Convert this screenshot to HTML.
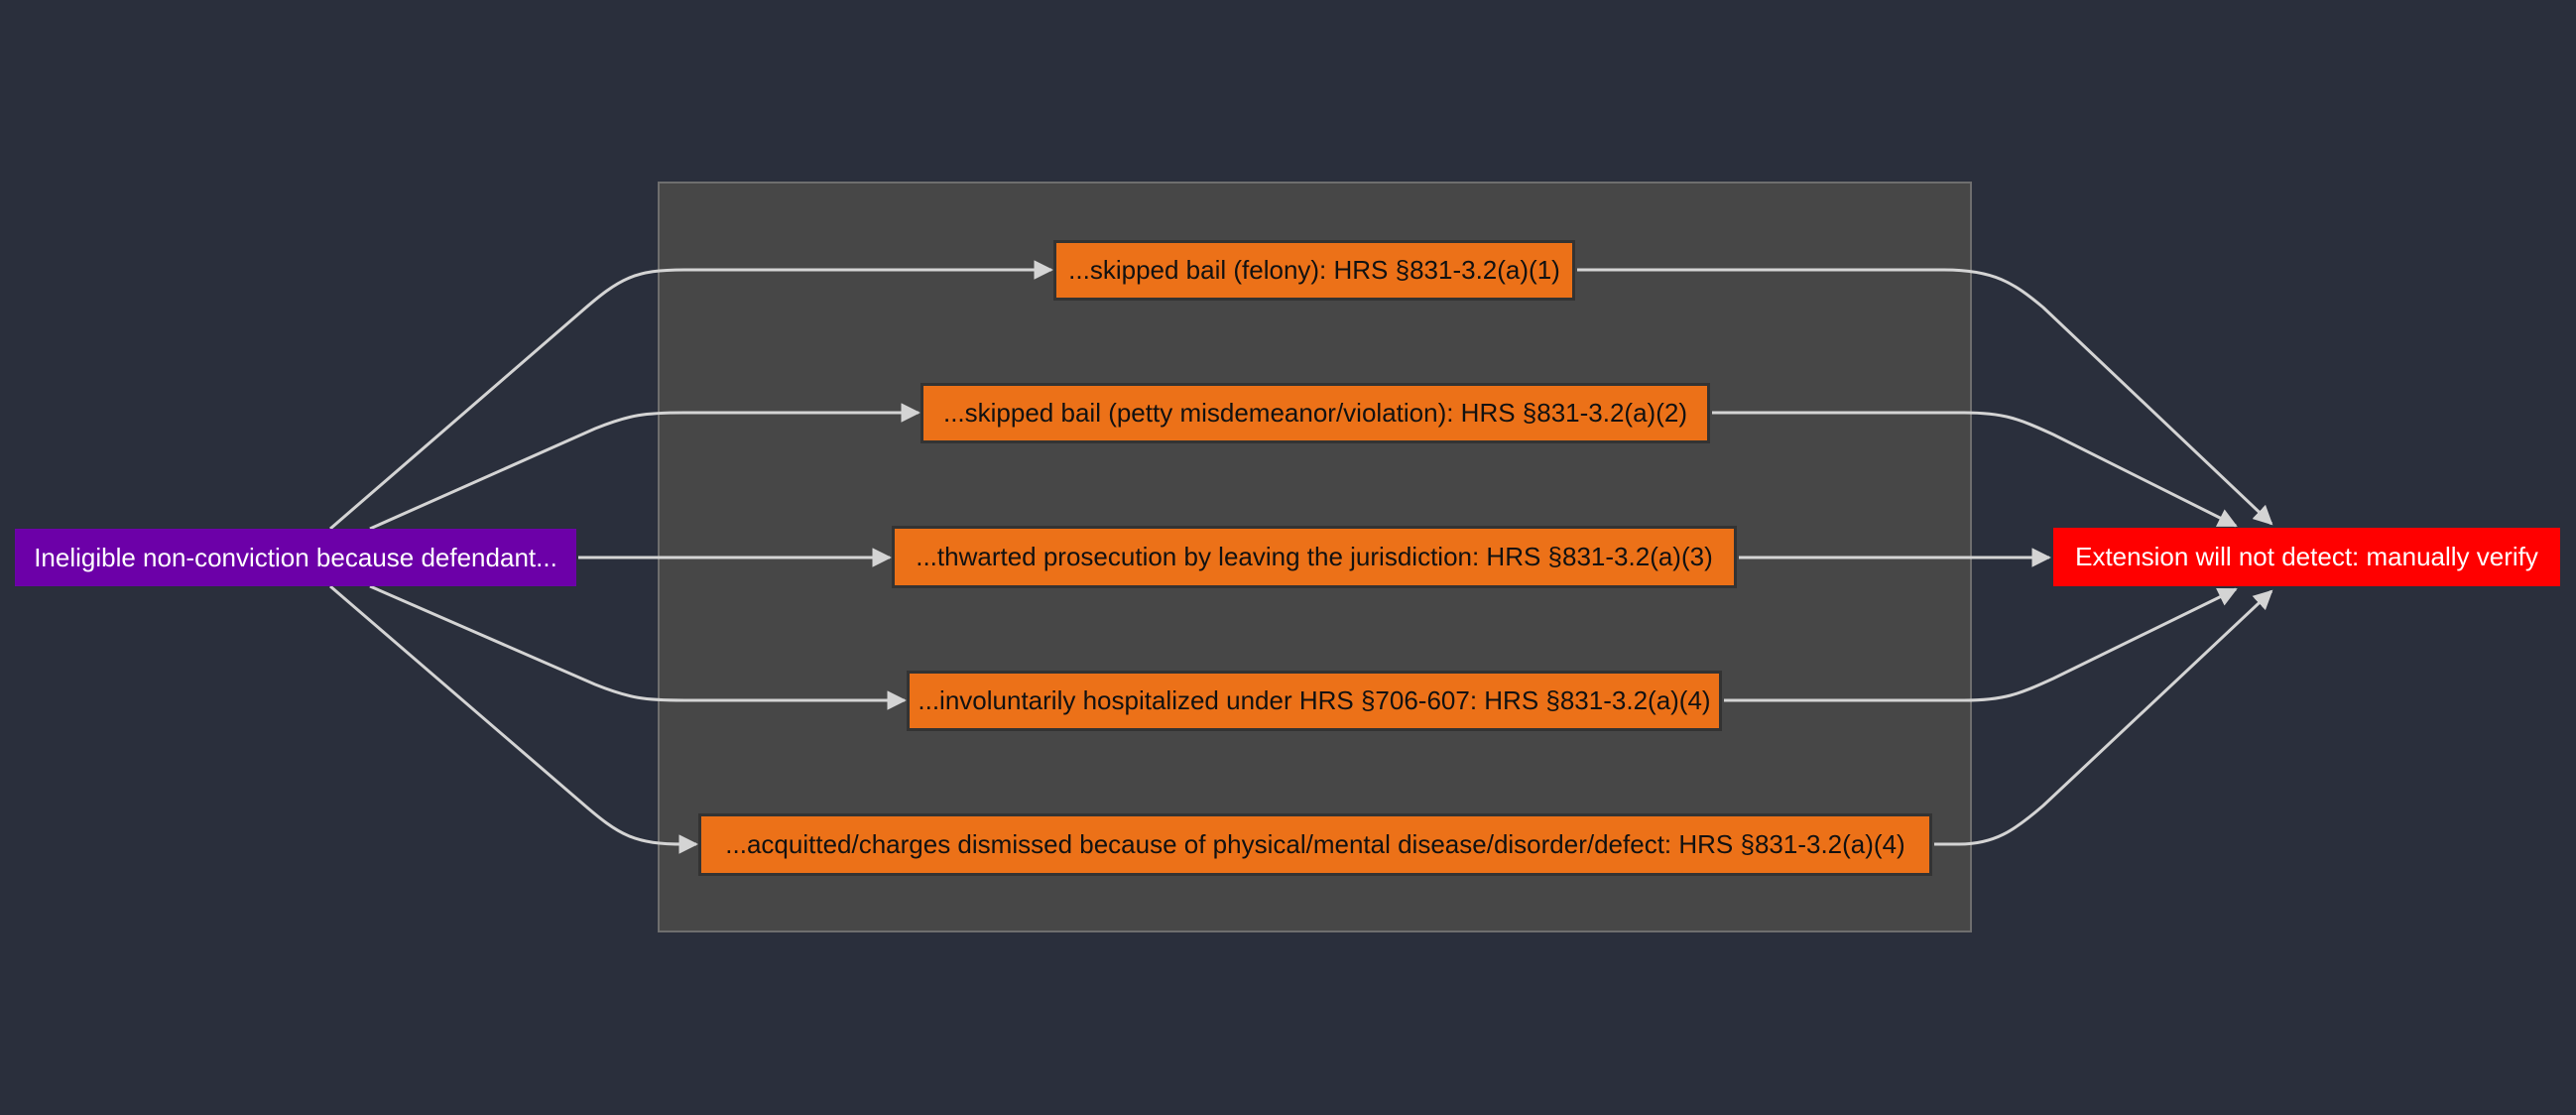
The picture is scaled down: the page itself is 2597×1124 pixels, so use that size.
<!DOCTYPE html>
<html><head><meta charset="utf-8"><style>
html,body{margin:0;padding:0;background:#2a2f3c;}
body{width:2597px;height:1124px;overflow:hidden;position:relative;font-family:"Liberation Sans","DejaVu Sans",sans-serif;}
.n{position:absolute;box-sizing:border-box;display:flex;align-items:center;justify-content:center;font-size:26px;white-space:nowrap;}
.o{background:#ec7118;border:3px solid #333;color:#111;}
svg{position:absolute;left:0;top:0;}
</style></head><body>
<svg width="2597" height="1124">
<defs><marker id="a" viewBox="0 0 10 10" refX="9" refY="5" markerWidth="6.5" markerHeight="6.5" orient="auto" markerUnits="strokeWidth"><path d="M0,0L10,5L0,10z" fill="#d4d4d4"/></marker></defs>
<rect x="664" y="184" width="1323" height="755" fill="#474747" stroke="#6e6e6e" stroke-width="2"/>
<g fill="none" stroke="#d4d4d4" stroke-width="3" marker-end="url(#a)">
<path d="M333,533 L585,315 C625,280 640,272 690,272 L1060,272"/>
<path d="M373,533 L600,432 C635,418 650,416 690,416 L926,416"/>
<path d="M583,562 L897,562"/>
<path d="M373,591 L600,690 C635,704 650,706 690,706 L912,706"/>
<path d="M333,591 L585,808 C625,843 640,851 690,851 L702,851"/>
<path d="M1590,272 L1960,272 C2010,272 2030,285 2060,310 L2290,528"/>
<path d="M1726,416 L1980,416 C2020,416 2035,422 2070,438 L2254,530"/>
<path d="M1753,562 L2066,562"/>
<path d="M1738,706 L1980,706 C2020,706 2035,700 2070,684 L2254,594"/>
<path d="M1950,851 L1975,851 C2010,851 2030,838 2060,812 L2290,596"/>
</g>
</svg>
<div class="n" style="left:15px;top:533px;width:566px;height:58px;background:#6c00a8;color:#fff;">Ineligible non-conviction because defendant...</div>
<div class="n" style="left:2070px;top:532px;width:511px;height:59px;background:#ff0000;color:#fff;">Extension will not detect: manually verify</div>
<div class="n o" style="left:1062px;top:242px;width:526px;height:61px;">...skipped bail (felony): HRS §831-3.2(a)(1)</div>
<div class="n o" style="left:928px;top:386px;width:796px;height:61px;">...skipped bail (petty misdemeanor/violation): HRS §831-3.2(a)(2)</div>
<div class="n o" style="left:899px;top:530px;width:852px;height:63px;">...thwarted prosecution by leaving the jurisdiction: HRS §831-3.2(a)(3)</div>
<div class="n o" style="left:914px;top:676px;width:822px;height:61px;">...involuntarily hospitalized under HRS §706-607: HRS §831-3.2(a)(4)</div>
<div class="n o" style="left:704px;top:820px;width:1244px;height:63px;">...acquitted/charges dismissed because of physical/mental disease/disorder/defect: HRS §831-3.2(a)(4)</div>
</body></html>
